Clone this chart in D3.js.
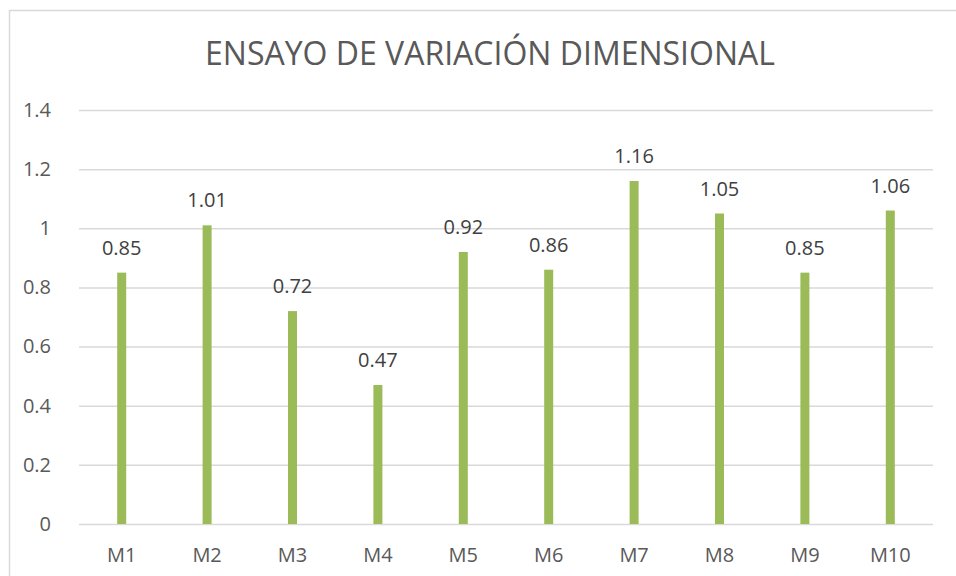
<!DOCTYPE html>
<html><head><meta charset="utf-8">
<script src="https://cdn.jsdelivr.net/npm/d3@7"></script>
<style>html,body{margin:0;padding:0;background:#fff;overflow:hidden}</style>
</head><body>
<svg id="c" width="956" height="576"></svg>
<script>
const categories = ["M1","M2","M3","M4","M5","M6","M7","M8","M9","M10"];
const values = [0.85,1.01,0.72,0.47,0.92,0.86,1.16,1.05,0.85,1.06];
const yTicks = [0,0.2,0.4,0.6,0.8,1,1.2,1.4];
const title = "ENSAYO DE VARIACIÓN DIMENSIONAL";

const FONT = "'Open Sans', Lato, sans-serif";
const svg = d3.select("#c");
const grey = "#595959";

// chart frame
svg.append("rect").attr("x",9.5).attr("y",10.5).attr("width",1000).attr("height",1000)
  .attr("fill","#fff").attr("stroke","#D9D9D9").attr("stroke-width",1.5);

const x = d3.scaleBand().domain(categories).range([79,933]);
const y = d3.scaleLinear().domain([0,1.4]).range([524,110]);

// gridlines
const yAxis = d3.axisLeft(y).tickValues(yTicks).tickSize(-(933-79)).tickPadding(28)
  .tickFormat(d => d3.format("")(d));
const gy = svg.append("g").attr("transform","translate(79,0)").call(yAxis);
gy.select(".domain").remove();
gy.selectAll(".tick line").attr("stroke","#D9D9D9").attr("stroke-width",1.5);
gy.selectAll(".tick text").attr("fill",grey).style("font-family",FONT).style("font-size","20px");

// x axis
const xAxis = d3.axisBottom(x).tickSize(0).tickPadding(24);
const gx = svg.append("g").attr("transform","translate(0,524)").call(xAxis);
gx.select(".domain").remove();
gx.selectAll(".tick text").attr("fill",grey).style("font-family",FONT).style("font-size","20px");

// bars
const bw = 9;
svg.selectAll("rect.bar").data(values).enter().append("rect").attr("class","bar")
  .attr("x",(d,i)=>x(categories[i]) + x.bandwidth()/2 - bw/2)
  .attr("y",d=>y(d)).attr("width",bw).attr("height",d=>y(0)-y(d))
  .attr("fill","#9BBB59");

// data labels
svg.selectAll("text.lbl").data(values).enter().append("text").attr("class","lbl")
  .attr("x",(d,i)=>x(categories[i]) + x.bandwidth()/2)
  .attr("y",d=>y(d)-18).attr("text-anchor","middle")
  .attr("fill","#404040").style("font-family",FONT).style("font-size","20px")
  .text(d=>d3.format("")(d));

// title
svg.append("text").attr("x",490).attr("y",65).attr("text-anchor","middle")
  .attr("fill",grey).style("font-family",FONT).style("font-size","32px").text(title);
</script>
</body></html>
